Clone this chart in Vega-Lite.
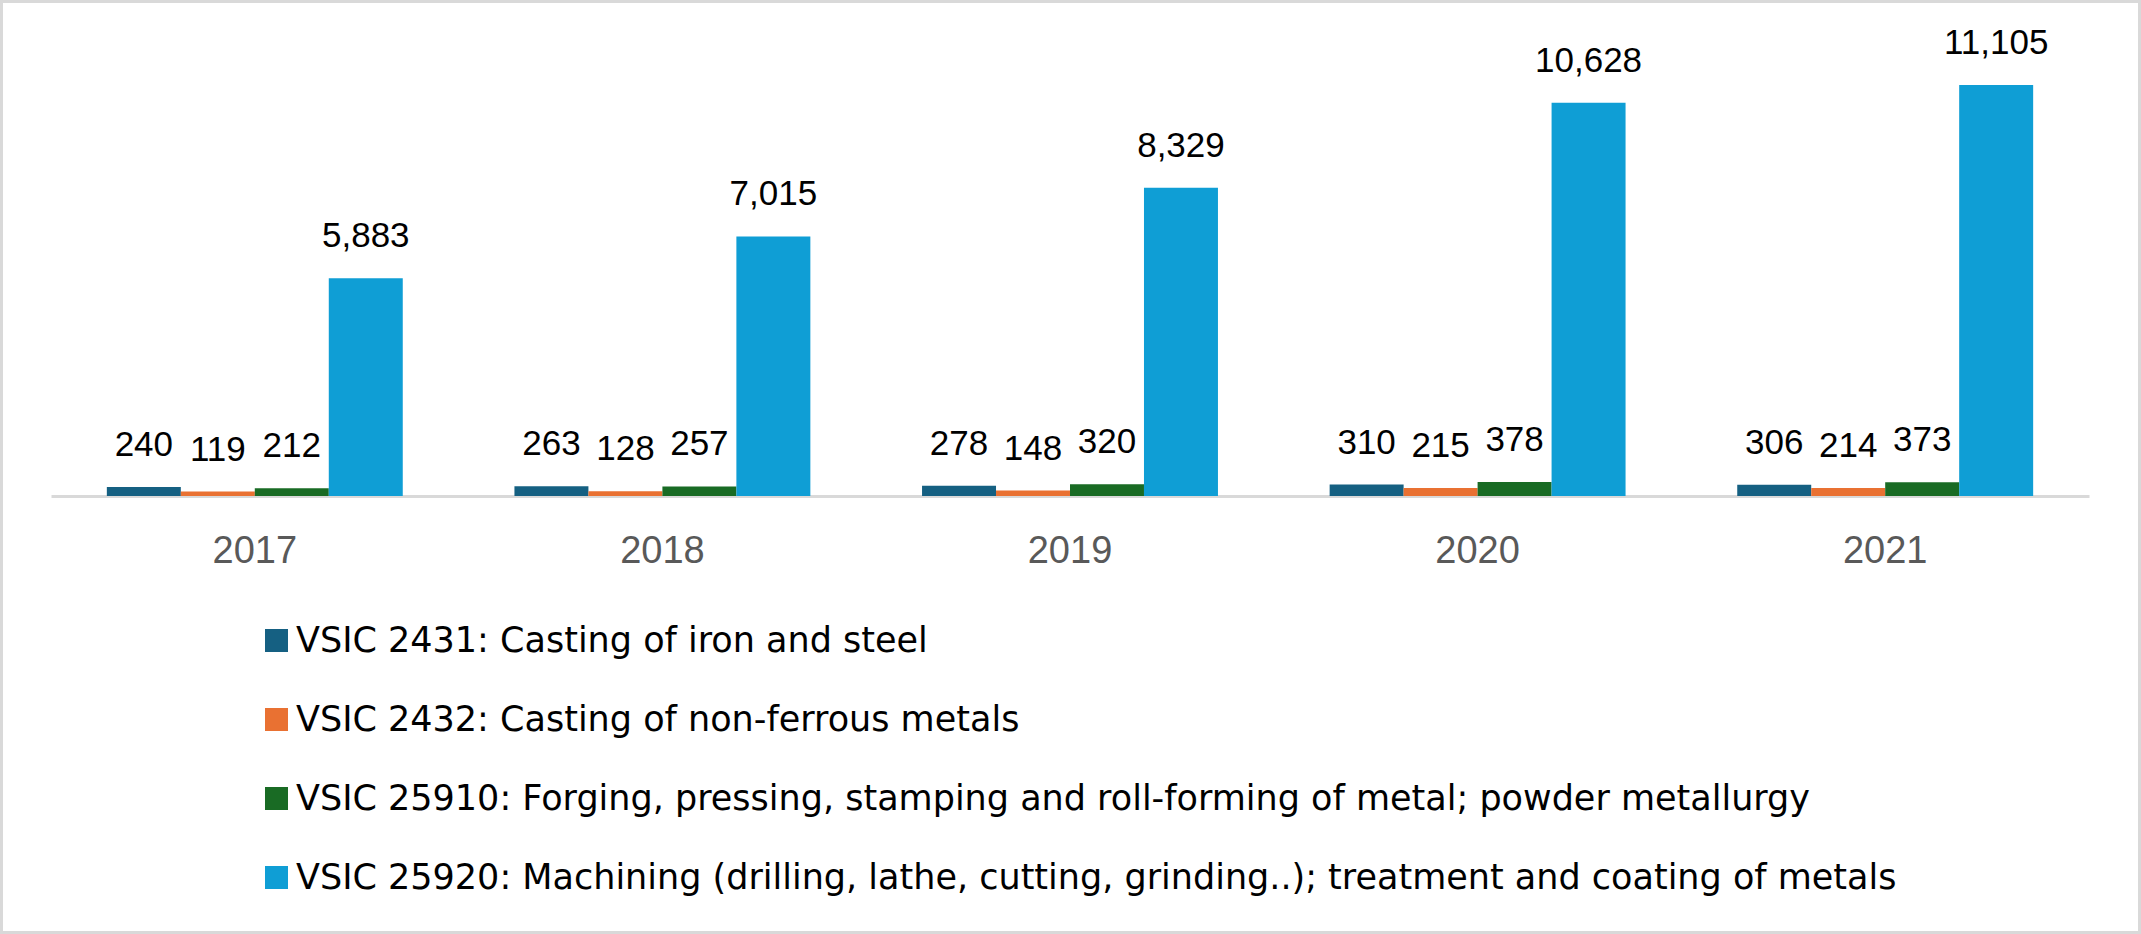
{
  "$schema": "https://vega.github.io/schema/vega-lite/v6.json",
  "width": 2141,
  "height": 934,
  "padding": 0,
  "autosize": {"type": "none"},
  "background": "white",
  "config": {"view": {"stroke": "#d9d9d9", "strokeWidth": 6}},
  "data": {
    "values": [
      {"year": "2017", "series": "VSIC 2431:  Casting of iron and steel", "value": 240},
      {"year": "2017", "series": "VSIC 2432: Casting of non-ferrous metals", "value": 119},
      {"year": "2017", "series": "VSIC 25910: Forging, pressing, stamping and roll-forming of metal; powder metallurgy", "value": 212},
      {"year": "2017", "series": "VSIC 25920: Machining (drilling, lathe, cutting, grinding..); treatment and coating of metals", "value": 5883},
      {"year": "2018", "series": "VSIC 2431:  Casting of iron and steel", "value": 263},
      {"year": "2018", "series": "VSIC 2432: Casting of non-ferrous metals", "value": 128},
      {"year": "2018", "series": "VSIC 25910: Forging, pressing, stamping and roll-forming of metal; powder metallurgy", "value": 257},
      {"year": "2018", "series": "VSIC 25920: Machining (drilling, lathe, cutting, grinding..); treatment and coating of metals", "value": 7015},
      {"year": "2019", "series": "VSIC 2431:  Casting of iron and steel", "value": 278},
      {"year": "2019", "series": "VSIC 2432: Casting of non-ferrous metals", "value": 148},
      {"year": "2019", "series": "VSIC 25910: Forging, pressing, stamping and roll-forming of metal; powder metallurgy", "value": 320},
      {"year": "2019", "series": "VSIC 25920: Machining (drilling, lathe, cutting, grinding..); treatment and coating of metals", "value": 8329},
      {"year": "2020", "series": "VSIC 2431:  Casting of iron and steel", "value": 310},
      {"year": "2020", "series": "VSIC 2432: Casting of non-ferrous metals", "value": 215},
      {"year": "2020", "series": "VSIC 25910: Forging, pressing, stamping and roll-forming of metal; powder metallurgy", "value": 378},
      {"year": "2020", "series": "VSIC 25920: Machining (drilling, lathe, cutting, grinding..); treatment and coating of metals", "value": 10628},
      {"year": "2021", "series": "VSIC 2431:  Casting of iron and steel", "value": 306},
      {"year": "2021", "series": "VSIC 2432: Casting of non-ferrous metals", "value": 214},
      {"year": "2021", "series": "VSIC 25910: Forging, pressing, stamping and roll-forming of metal; powder metallurgy", "value": 373},
      {"year": "2021", "series": "VSIC 25920: Machining (drilling, lathe, cutting, grinding..); treatment and coating of metals", "value": 11105}
    ]
  },
  "encoding": {
    "x": {
      "field": "year",
      "type": "nominal",
      "scale": {"range": [51, 2089], "paddingInner": 0.274, "paddingOuter": 0.137},
      "axis": {
        "title": null,
        "labelAngle": 0,
        "labelFont": "Liberation Sans",
        "labelFontSize": 38,
        "labelColor": "#595959",
        "labelBaseline": "alphabetic",
        "labelPadding": 66,
        "ticks": false,
        "tickSize": 0,
        "grid": false,
        "domainColor": "#d9d9d9",
        "domainWidth": 3,
        "offset": -438
      }
    },
    "xOffset": {
      "field": "series",
      "type": "nominal",
      "sort": [
        "VSIC 2431:  Casting of iron and steel",
        "VSIC 2432: Casting of non-ferrous metals",
        "VSIC 25910: Forging, pressing, stamping and roll-forming of metal; powder metallurgy",
        "VSIC 25920: Machining (drilling, lathe, cutting, grinding..); treatment and coating of metals"
      ],
      "scale": {"paddingInner": 0, "paddingOuter": 0}
    },
    "y": {
      "field": "value",
      "type": "quantitative",
      "scale": {"domain": [0, 12000], "range": [496, 52]},
      "axis": null
    }
  },
  "layer": [
    {
      "mark": {"type": "bar"},
      "encoding": {
        "color": {
          "field": "series",
          "type": "nominal",
          "sort": [
            "VSIC 2431:  Casting of iron and steel",
            "VSIC 2432: Casting of non-ferrous metals",
            "VSIC 25910: Forging, pressing, stamping and roll-forming of metal; powder metallurgy",
            "VSIC 25920: Machining (drilling, lathe, cutting, grinding..); treatment and coating of metals"
          ],
          "scale": {"range": ["#156082", "#E97132", "#196B24", "#0F9ED5"]},
          "legend": {
            "orient": "none",
            "legendX": 259,
            "legendY": 623,
            "direction": "vertical",
            "title": null,
            "symbolType": "square",
            "symbolSize": 529,
            "symbolStrokeWidth": 0,
            "symbolOpacity": 1,
            "labelFont": "DejaVu Sans",
            "labelFontSize": 35,
            "labelColor": "black",
            "labelOffset": 2,
            "labelLimit": 0,
            "rowPadding": 43,
            "padding": 0
          }
        }
      }
    },
    {
      "mark": {
        "type": "text",
        "dy": -31,
        "baseline": "alphabetic",
        "font": "Liberation Sans",
        "fontSize": 35,
        "color": "black"
      },
      "encoding": {
        "text": {"field": "value", "type": "quantitative", "format": ",d"}
      }
    }
  ]
}
